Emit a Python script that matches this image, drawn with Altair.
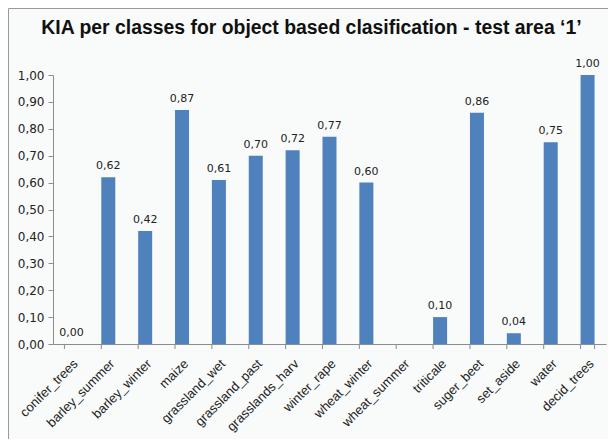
import altair as alt
import pandas as pd

categories = ["conifer_trees", "barley_summer", "barley_winter", "maize", "grassland_wet",
              "grassland_past", "grasslands_harv", "winter_rape", "wheat_winter", "wheat_summer",
              "triticale", "suger_beet", "set_aside", "water", "decid_trees"]
kia = [0.00, 0.62, 0.42, 0.87, 0.61, 0.70, 0.72, 0.77, 0.60, None, 0.10, 0.86, 0.04, 0.75, 1.00]
y_ticks = [0.0, 0.1, 0.2, 0.3, 0.4, 0.5, 0.6, 0.7, 0.8, 0.9, 1.0]

df = pd.DataFrame({"cat": categories, "kia": kia})

W, H = 553, 269
BAR = "#4f81bd"
AX = "#8c8c8c"

xscale = alt.Scale(domain=categories, paddingInner=0.62, paddingOuter=0.31)
yscale = alt.Scale(domain=[0, 1], nice=False)

xaxis = alt.Axis(labelAngle=-45, ticks=False, domainColor=AX, labelFont="Liberation Sans",
                 labelFontSize=13, labelColor="#222222", labelPadding=13, labelOverlap=False,
                 title=None)
yaxis = alt.Axis(values=y_ticks, labelExpr="replace(format(datum.value, '.2f'), '.', ',')",
                 grid=False, domainColor=AX, tickColor=AX, tickSize=5, labelPadding=4,
                 labelOverlap=False, labelFont="DejaVu Sans", labelFontSize=12,
                 labelColor="#222222", title=None)

base = alt.Chart(df)

bars = base.mark_bar(color=BAR).encode(
    x=alt.X("cat:N", scale=xscale, axis=xaxis, sort=categories),
    y=alt.Y("kia:Q", scale=yscale, axis=yaxis),
)

labels = base.transform_filter("isValid(datum.kia)").transform_calculate(
    lab="replace(format(datum.kia, '.2f'), '.', ',')"
).mark_text(font="DejaVu Sans", fontSize=11, color="#222222", baseline="bottom", dy=-6).encode(
    x=alt.X("cat:N", scale=xscale, sort=categories, axis=xaxis),
    y=alt.Y("kia:Q", scale=yscale, axis=yaxis),
    text="lab:N",
)

ticks = base.mark_rule(color=AX).encode(
    x=alt.X("cat:N", scale=xscale, sort=categories, bandPosition=0, axis=xaxis),
    y=alt.value(H),
    y2=alt.value(H + 5),
)
last_tick = base.transform_filter(f"datum.cat == '{categories[-1]}'").mark_rule(color=AX).encode(
    x=alt.X("cat:N", scale=xscale, sort=categories, bandPosition=1, axis=xaxis),
    y=alt.value(H),
    y2=alt.value(H + 5),
)

frame = base.transform_filter(f"datum.cat == '{categories[0]}'").mark_rect(
    fill=None, stroke="#9a9a9a", strokeWidth=1
).encode(
    x=alt.value(-44.5), x2=alt.value(W + 60),
    y=alt.value(-66.5), y2=alt.value(H + 150),
)

chart = alt.layer(bars, frame, ticks, last_tick, labels).properties(
    width=W, height=H,
    title=alt.TitleParams(
        "KIA per classes for object based clasification - test area \u20181\u2019",
        font="Liberation Sans", fontSize=19.4, fontWeight="bold", color="#111111",
        anchor="middle", offset=-30, dx=-18,
    ),
    autosize=alt.AutoSizeParams(type="none"),
    padding={"left": 45, "top": 67, "right": 2, "bottom": 95},
    background="#f8fbfa",
).configure_view(stroke=None)

chart.save("out.html", embed_options={"renderer": "svg", "actions": False})
